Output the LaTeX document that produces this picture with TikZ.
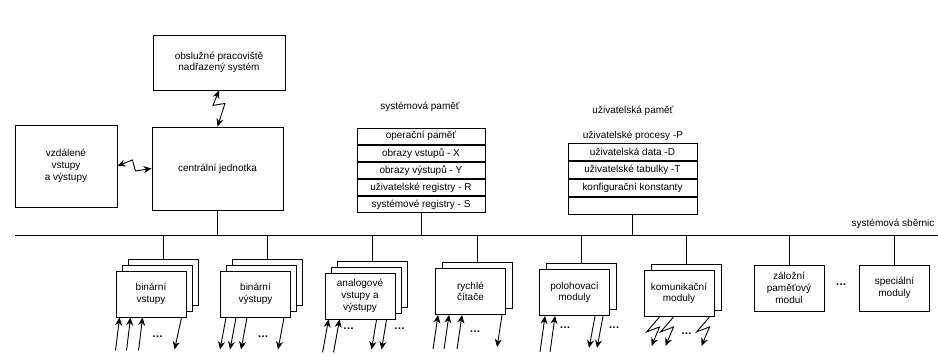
\documentclass[tikz,border=0pt]{standalone}
\usepackage{fontspec}
\setmainfont{Liberation Sans}
\usetikzlibrary{arrows.meta,positioning,calc}

\begin{document}
\begin{tikzpicture}[x=1pt, y=-1pt,
    every node/.style={font=\fontsize{10}{11.7}\selectfont},
    wire/.style={line width=0.9pt},
    box/.style={draw, fill=white, line width=0.9pt, align=center, inner sep=0pt},
    mod/.style={box, minimum width=70pt, minimum height=46pt},
    memrow/.style={draw, line width=0.9pt, inner sep=0pt},
    dots/.style={font=\fontsize{11}{12}\selectfont\bfseries},
    iarr/.style={wire, -{Stealth[length=8pt,width=7pt]}},
    zarr/.style={wire, {Stealth[length=8pt,width=7pt]}-{Stealth[length=8pt,width=7pt]}}
]
  \useasboundingbox (0,0) rectangle (938,356);

  % central part
  \node[box, minimum width=132pt, minimum height=55pt] (obsl) at (219,62.5)
       {obslužné pracoviště\\nadřazený systém};
  \node[box, minimum width=131pt, minimum height=83pt] (cpu) at (217.5,168.5) {centrální jednotka};
  \node[box, minimum width=102pt, minimum height=82pt] (remote) at (66,166)
       {vzdálené\\vstupy\\a výstupy};
  \draw[zarr] (obsl.south) -- ++(-6,15) -- ++(12,-2) -- (cpu.north);
  \draw[zarr] (remote.east) -- ++(15,-6) -- ++(3,11) -- (cpu.west);

  % system memory
  \node (syslbl) at (420,107) {systémová paměť};
  \node[memrow, minimum width=128pt, minimum height=16.2pt] (s1) at (421,136.1) {operační paměť};
  \node[memrow, minimum width=128pt, minimum height=16.2pt, below=0pt of s1] (s2) {obrazy vstupů - X};
  \node[memrow, minimum width=128pt, minimum height=16.2pt, below=0pt of s2] (s3) {obrazy výstupů - Y};
  \node[memrow, minimum width=128pt, minimum height=16.2pt, below=0pt of s3] (s4) {uživatelské registry - R};
  \node[memrow, minimum width=128pt, minimum height=16.2pt, below=0pt of s4] (s5) {systémové registry - S};

  % user memory
  \node (usrlbl) at (633,111) {uživatelská paměť};
  \node (usrproc) at (633,136) {uživatelské procesy -P};
  \node[memrow, minimum width=129pt, minimum height=17.25pt] (u1) at (632.5,151.6) {uživatelská data -D};
  \node[memrow, minimum width=129pt, minimum height=17.25pt, below=0pt of u1] (u2) {uživatelské tabulky -T};
  \node[memrow, minimum width=129pt, minimum height=17.25pt, below=0pt of u2] (u3) {konfigurační konstanty};
  \node[memrow, minimum width=129pt, minimum height=17.25pt, below=0pt of u3] (u4) {};

  % system bus
  \coordinate (busL) at (15,235);
  \coordinate (busR) at (938,235);
  \draw[wire] (busL) -- (busR);
  \node[anchor=east] (buslbl) at (938,224) {systémová sběrnic};
  \draw[wire] (cpu.south) -- (cpu.south |- busL);
  \draw[wire] (s5.south) -- (s5.south |- busL);
  \draw[wire] (u4.south) -- (u4.south |- busL);

  % modules
  \node[mod] (binin3) at (163,282) {};
  \node[mod] (binin2) at (157,288) {};
  \node[mod] (binin) at (151,294) {binární\\vstupy};
  \node[mod] (binout3) at (267.5,282) {};
  \node[mod] (binout2) at (261.5,288) {};
  \node[mod] (binout) at (255.5,294) {binární\\výstupy};
  \node[mod] (analog3) at (372,284) {};
  \node[mod] (analog2) at (366,290) {};
  \node[mod] (analog) at (360,296) {analogové\\vstupy a\\výstupy};
  \node[mod] (fast2) at (477,285.5) {};
  \node[mod] (fast) at (470.5,291.5) {rychlé\\čítače};
  \node[mod] (pos2) at (581,286.5) {};
  \node[mod] (pos) at (574.5,292.5) {polohovací\\moduly};
  \node[mod] (comm2) at (686,287.5) {};
  \node[mod] (comm) at (679,293.5) {komunikační\\moduly};
  \node[mod] (backup) at (789,288) {záložní\\paměťový\\modul};
  \node[dots] (moddots) at (841,285) {\dots};
  \node[mod] (special) at (894.5,288) {speciální\\moduly};
  \foreach \m in {binin3,binout3,analog3,fast2,pos2,comm2,backup,special}
    \draw[wire] (\m.north) -- (\m.north |- busL);

  % inputs and outputs
  \foreach \dx in {4,15,27}
    \draw[iarr] ($(binin.south west)+(\dx-4,33)$) -- ($(binin.south west)+(\dx,0)$);
  \node[dots] (bininD) at ($(binin.south west)+(42,19)$) {\dots};
  \draw[iarr] ($(binin.south west)+(66,0)$) -- ($(binin.south west)+(59,32)$);

  \foreach \dx in {6,16,27,64}
    \draw[iarr] ($(binout.south west)+(\dx,0)$) -- ($(binout.south west)+(\dx-6,32)$);
  \node[dots] (binoutD) at ($(binout.south west)+(43,19)$) {\dots};

  \foreach \dx in {4,15}
    \draw[iarr] ($(analog.south west)+(\dx-6,33)$) -- ($(analog.south west)+(\dx,0)$);
  \node[dots] (analogD1) at ($(analog.south west)+(24,9)$) {\dots};
  \foreach \dx in {52,62}
    \draw[iarr] ($(analog.south west)+(\dx,0)$) -- ($(analog.south west)+(\dx-5,30)$);
  \node[dots] (analogD2) at ($(analog.south west)+(75,9)$) {\dots};

  \foreach \dx in {3,14,27}
    \draw[iarr] ($(fast.south west)+(\dx-5,34)$) -- ($(fast.south west)+(\dx,0)$);
  \node[dots] (fastD) at ($(fast.south west)+(40,17)$) {\dots};
  \draw[iarr] ($(fast.south west)+(67,0)$) -- ($(fast.south west)+(62,32)$);

  \foreach \dx in {6,16}
    \draw[iarr] ($(pos.south west)+(\dx-5,36)$) -- ($(pos.south west)+(\dx,0)$);
  \node[dots] (posD1) at ($(pos.south west)+(26,12)$) {\dots};
  \foreach \dx in {56,64}
    \draw[iarr] ($(pos.south west)+(\dx,0)$) -- ($(pos.south west)+(\dx-6,32)$);
  \node[dots] (posD2) at ($(pos.south west)+(75,12)$) {\dots};

  \foreach \dx in {16,30,66}
    \draw[iarr] ($(comm.south west)+(\dx,0)$) -- ++(-13,15) -- ++(13,-5) -- ++(-8,19);
  \node[dots] (commD) at ($(comm.south west)+(43,17)$) {\dots};
\end{tikzpicture}
\end{document}
